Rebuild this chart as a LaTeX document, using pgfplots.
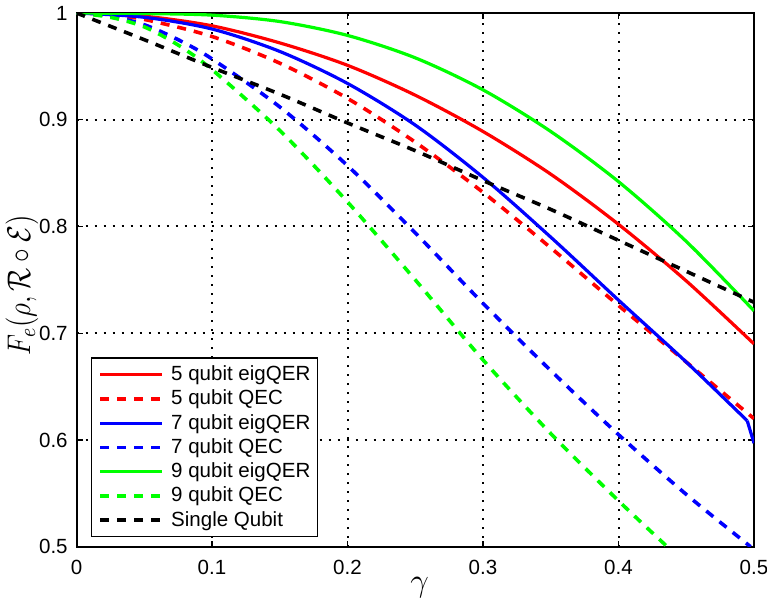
\RequirePackage{fix-cm}
\documentclass[border=0pt]{standalone}
\usepackage[no-math]{fontspec}
\setmainfont{Liberation Sans}
\usepackage{pgfplots}
\pgfplotsset{compat=1.18}
\newcommand{\tfont}{\fontsize{10.3}{12}\selectfont}
\definecolor{mred}{RGB}{255,0,0}
\definecolor{mblue}{RGB}{0,0,255}
\definecolor{mgreen}{RGB}{0,255,0}
\tikzset{mdash/.style={line width=1.8bp, dash pattern=on 4.5bp off 4bp}}
\begin{document}
\begin{tikzpicture}
\useasboundingbox (-38.25bp,-30.65bp) rectangle (345.25bp,273.35bp);
\begin{axis}[
  at={(0,0)}, anchor=south west,
  scale only axis, width=338.75bp, height=266.85bp,
  xmin=0, xmax=0.5, ymin=0.5, ymax=1,
  xtick={0,0.1,0.2,0.3,0.4,0.5},
  ytick={0.5,0.6,0.7,0.8,0.9,1},
  xticklabels={0,0.1,0.2,0.3,0.4,0.5},
  yticklabels={0.5,0.6,0.7,0.8,0.9,1},
  tick label style={font=\tfont},
  xticklabel style={yshift=-3.3bp},
  yticklabel style={xshift=-0.9bp},
  tick align=inside, major tick length=3bp,
  tick style={black, line width=0.6bp},
  axis line style={line width=1bp},
  grid=major,
  major grid style={black, line width=1bp, dash pattern=on 1bp off 3.5bp},
  xlabel={$\gamma$},
  xlabel style={at={(axis description cs:0.5063,-0.077)}, anchor=center, font=\fontsize{16.5}{19}\selectfont},
  ylabel={\scalebox{1}[1.2]{$F_e(\rho,\mathcal{R}\circ\mathcal{E})$}},
  ylabel style={at={(axis description cs:-0.0805,0.49)}, anchor=center, font=\fontsize{13.7}{16}\selectfont},
  legend cell align=left,
  legend image code/.code={\draw[#1] (3bp,0bp) -- (34bp,0bp);},
  legend style={at={(axis description cs:0,0)}, anchor=south west, xshift=7.25bp, yshift=4.7bp,
    draw=black, line width=0.6bp, fill=white, font=\tfont,
    inner xsep=3.5bp, inner ysep=2.2bp, row sep=0pt,
    nodes={inner xsep=0pt, inner ysep=1.6bp},
    /tikz/every odd column/.append style={column sep=3.5bp}},
  every axis plot/.append style={line width=1.6bp},
]
\addplot[mred, smooth] coordinates {
(0,1) (0.05,0.997) (0.1,0.988) (0.15,0.972) (0.2,0.951) (0.25,0.923) (0.3,0.889) (0.35,0.849) (0.4,0.802) (0.45,0.749) (0.5,0.690)};
\addlegendentry{5 qubit eigQER}
\addplot[mred, smooth, mdash] coordinates {
(0,1) (0.025,0.998) (0.05,0.994) (0.1,0.978) (0.15,0.953) (0.2,0.920) (0.25,0.879) (0.3,0.832) (0.35,0.780) (0.4,0.726) (0.45,0.673) (0.5,0.620)};
\addlegendentry{5 qubit QEC}
\addplot[mblue, smooth] coordinates {
(0,1) (0.05,0.996) (0.1,0.985) (0.15,0.964) (0.2,0.934) (0.25,0.895) (0.3,0.846) (0.35,0.790) (0.4,0.731) (0.45,0.673) (0.495,0.618)};
\addlegendentry{7 qubit eigQER}
\addplot[mblue, mdash, smooth] coordinates {
(0,1) (0.025,0.997) (0.05,0.989) (0.075,0.975) (0.1,0.957) (0.15,0.912) (0.2,0.857) (0.25,0.794) (0.3,0.728) (0.35,0.665) (0.4,0.605) (0.45,0.549) (0.4975,0.5)};
\addlegendentry{7 qubit QEC}
\addplot[mgreen, smooth] coordinates {
(0,1) (0.05,0.9995) (0.1,0.998) (0.15,0.992) (0.2,0.979) (0.25,0.958) (0.3,0.928) (0.35,0.889) (0.4,0.842) (0.45,0.786) (0.5,0.721)};
\addlegendentry{9 qubit eigQER}
\addplot[mgreen, mdash, smooth] coordinates {
(0,1) (0.025,0.996) (0.05,0.987) (0.075,0.970) (0.1,0.947) (0.15,0.890) (0.2,0.823) (0.25,0.750) (0.3,0.675) (0.35,0.606) (0.4,0.543) (0.436,0.5)};
\addlegendentry{9 qubit QEC}
\addplot[black, mdash, smooth] coordinates {
(0,1) (0.05,0.975) (0.1,0.949) (0.15,0.924) (0.2,0.897) (0.25,0.871) (0.3,0.843) (0.35,0.816) (0.4,0.787) (0.45,0.758) (0.5,0.729)};
\addlegendentry{Single Qubit}
\addplot[mblue, forget plot] coordinates {(0.495,0.618) (0.5,0.597)};
\end{axis}
\end{tikzpicture}
\end{document}
